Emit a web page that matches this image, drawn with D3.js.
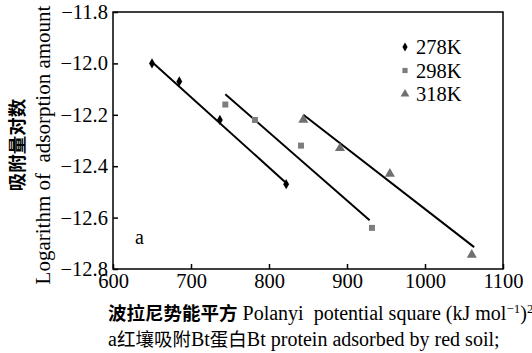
<!DOCTYPE html>
<html>
<head>
<meta charset="utf-8">
<script src="https://cdn.jsdelivr.net/npm/d3@7"></script>
<style>
  body { margin: 0; background: #fff; }
  svg { display: block; }
</style>
</head>
<body>
<svg width="532" height="353"></svg>
<script>
// measured points, x = Polanyi potential square, y = log adsorption amount
const series = ['278K', '298K', '318K'];
const x278 = [650, 685, 737, 822];
const y278 = [-12.0, -12.07, -12.22, -12.47];
const x298 = [744, 782, 841, 932];
const y298 = [-12.16, -12.22, -12.32, -12.64];
const x318 = [844, 891, 955, 1060];
const y318 = [-12.22, -12.33, -12.43, -12.745];

// fitted lines: [x start, x end], [y start, y end]
const fitX = [[650, 822], [744, 929], [844, 1063]];
const fitY = [[-11.995, -12.465], [-12.12, -12.61], [-12.2, -12.715]];

const xTicks = [600, 700, 800, 900, 1000, 1100];
const yTicks = [-12.8, -12.6, -12.4, -12.2, -12.0, -11.8];

const svg = d3.select('svg');
const m = {left: 113, top: 12, right: 503, bottom: 269};
const SERIF = 'Liberation Serif';
const CJK = 'Noto Sans CJK SC';

const x = d3.scaleLinear().domain([600, 1100]).range([m.left, m.right]);
const y = d3.scaleLinear().domain([-12.8, -11.8]).range([m.bottom, m.top]);

// frame
svg.append('rect')
  .attr('x', m.left).attr('y', m.top)
  .attr('width', m.right - m.left).attr('height', m.bottom - m.top)
  .attr('fill', 'none').attr('stroke', '#000').attr('stroke-width', 1.5);

const xAxis = svg.append('g')
  .attr('transform', `translate(0,${m.bottom})`)
  .call(d3.axisBottom(x).tickValues(xTicks).tickSizeInner(-5).tickSizeOuter(0).tickPadding(4).tickFormat(d3.format('d')));
const yAxis = svg.append('g')
  .attr('transform', `translate(${m.left},0)`)
  .call(d3.axisLeft(y).tickValues(yTicks).tickSizeInner(-5).tickSizeOuter(0).tickPadding(5).tickFormat(d3.format('.1f')));

[xAxis, yAxis].forEach(a => {
  a.select('.domain').remove();
  a.selectAll('line').attr('stroke', '#000').attr('stroke-width', 1.5);
  a.selectAll('text').attr('fill', '#000').attr('font-family', SERIF).attr('font-size', 20.5);
});

// fit lines
const line = d3.line().x(d => x(d[0])).y(d => y(d[1]));
fitX.forEach((fx, i) => {
  svg.append('path')
    .attr('d', line(d3.zip(fx, fitY[i])))
    .attr('stroke', '#000').attr('stroke-width', 2).attr('fill', 'none');
});

// markers
const symbols = [d3.symbolDiamond, d3.symbolSquare, d3.symbolTriangle];
const sizes = [30, 36, 44];
const colors = ['#000', '#7d7d7d', '#707070'];
const xs = [x278, x298, x318];
const ys = [y278, y298, y318];

xs.forEach((xv, i) => {
  svg.append('g').selectAll('path')
    .data(d3.zip(xv, ys[i]))
    .join('path')
    .attr('transform', d => `translate(${x(d[0])},${y(d[1])})`)
    .attr('d', d3.symbol(symbols[i], sizes[i]))
    .attr('fill', colors[i]);
});

// legend
const legend = svg.append('g').attr('transform', 'translate(405,47)');
series.forEach((s, i) => {
  const row = legend.append('g').attr('transform', `translate(0,${i * 23.5})`);
  row.append('path').attr('d', d3.symbol(symbols[i], sizes[i] * 0.75)).attr('fill', colors[i]);
  row.append('text').attr('x', 11).attr('dy', '0.35em')
    .attr('font-family', SERIF).attr('font-size', 20.5).text(s);
});

svg.append('text').attr('x', 135).attr('y', 244)
  .attr('font-family', SERIF).attr('font-size', 20).text('a');

// y axis title
const yt = svg.append('g').attr('transform', 'translate(0,145) rotate(-90)');
yt.append('text').attr('x', 0).attr('y', 24).attr('text-anchor', 'middle')
  .attr('font-family', CJK).attr('font-size', 18.5).attr('font-weight', 'bold').text('吸附量对数');
yt.append('text').attr('x', 0).attr('y', 50).attr('text-anchor', 'middle')
  .attr('font-family', SERIF).attr('font-size', 21).attr('xml:space', 'preserve')
  .text('Logarithm of  adsorption amount');

// x axis title
const xt = svg.append('text').attr('x', 108).attr('y', 320)
  .attr('font-family', SERIF).attr('font-size', 20).attr('xml:space', 'preserve');
xt.append('tspan').attr('font-family', CJK).attr('font-size', 18.5).attr('font-weight', 'bold').text('波拉尼势能平方');
xt.append('tspan').text(' Polanyi  potential square (kJ mol');
xt.append('tspan').attr('font-size', 13).attr('dy', -7).text('−1');
xt.append('tspan').attr('dy', 7).text(')');
xt.append('tspan').attr('font-size', 13).attr('dy', -7).text('2');

// caption
const cap = svg.append('text').attr('x', 108).attr('y', 346)
  .attr('font-family', SERIF).attr('font-size', 20);
cap.append('tspan').text('a');
cap.append('tspan').attr('font-family', CJK).attr('font-size', 18.5).text('红壤吸附');
cap.append('tspan').text('Bt');
cap.append('tspan').attr('font-family', CJK).attr('font-size', 18.5).text('蛋白');
cap.append('tspan').text('Bt protein adsorbed by red soil;');
</script>
</body>
</html>
